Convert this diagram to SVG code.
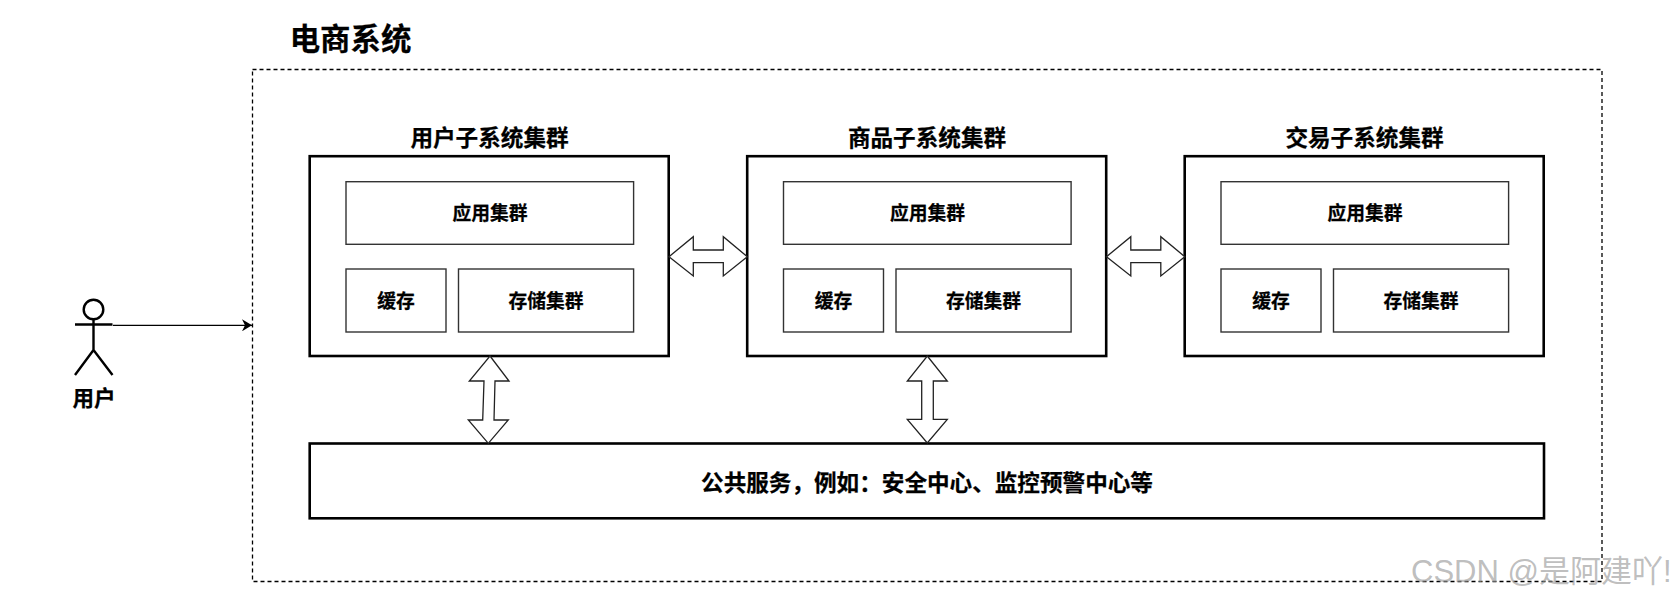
<svg xmlns="http://www.w3.org/2000/svg" width="1676" height="603" viewBox="0 0 1676 603">
<style>
text{font-family:"Noto Sans CJK SC","Noto Sans",sans-serif;font-weight:700;fill:#000;text-anchor:middle;dominant-baseline:central;stroke:#000;stroke-width:.25}
.big{fill:#fff;stroke:#000;stroke-width:2.6}
.in{fill:#fff;stroke:#333;stroke-width:1.4}
.t1{font-size:22.6px}.t2{font-size:18.8px}
.arr{fill:#fff;stroke:#222;stroke-width:1.3}
.wm{font-family:"Liberation Sans","Noto Sans CJK SC",sans-serif;font-weight:400;font-size:31px;fill:#9a9a9a;fill-opacity:.65;stroke:none;text-anchor:start}
</style>
<defs>
<marker id="ah" markerUnits="userSpaceOnUse" markerWidth="10" markerHeight="12" refX="10" refY="6" orient="auto"><path d="M0 0L10 6L0 12L3 6Z" fill="#000"/></marker>
<g id="cluster">
<rect class="big" x="309.7" y="156.2" width="359" height="199.8"/>
<rect class="in" x="346" y="181.7" width="287.6" height="62.6"/>
<text class="t2" x="490" y="211.5">应用集群</text>
<rect class="in" x="346" y="269" width="100" height="63"/>
<text class="t2" x="396" y="299">缓存</text>
<rect class="in" x="458.5" y="269" width="175.1" height="63"/>
<text class="t2" x="546" y="299">存储集群</text>
</g>
</defs>
<g id="system">
<rect x="252.5" y="69.5" width="1349.5" height="512" fill="none" stroke="#000" stroke-width="1.3" stroke-dasharray="4 3"/>
<text x="350.5" y="37" style="font-size:30.4px">电商系统</text>
</g>
<g id="user-cluster">
<text class="t1" x="489.5" y="136">用户子系统集群</text>
<use href="#cluster"/>
</g>
<g id="product-cluster">
<text class="t1" x="927" y="136">商品子系统集群</text>
<use href="#cluster" x="437.5"/>
</g>
<g id="trade-cluster">
<text class="t1" x="1364.5" y="136">交易子系统集群</text>
<use href="#cluster" x="875"/>
</g>
<g id="public-services">
<rect class="big" x="309.7" y="443.5" width="1234.3" height="74.8"/>
<text x="927" y="481" style="font-size:22.6px">公共服务，例如：安全中心、监控预警中心等</text>
</g>
<g id="actor" fill="none" stroke="#000" stroke-width="2.4">
<circle cx="93.5" cy="309.5" r="9.8" fill="#fff"/>
<path d="M75 324.5H112.5M93.5 319.5V350M93.5 350L75 375M93.5 350L112.5 375"/>
<text x="94" y="396" style="font-size:21.5px;stroke-width:.25">用户</text>
</g>
<g id="connectors">
<path d="M113 325.3H252" fill="none" stroke="#000" stroke-width="1.3" marker-end="url(#ah)"/>
<path class="arr" d="M669 256.7L693.3 236.7V250H723.3V236.7L747.3 256.7L723.3 276V262.7H693.3V276Z"/>
<path class="arr" d="M1106.5 256.7L1130.8 236.7V250H1160.8V236.7L1184.8 256.7L1160.8 276V262.7H1130.8V276Z"/>
<path class="arr" d="M490 356L509 381H495L494 420H508.3L488.3 443.3L468.3 420H482.7L484 381H469.3Z"/>
<path class="arr" d="M927.3 356L947.3 381H933.3V419.3H947.3L927.3 443L907.3 419.3H921.7V381H907.3Z"/>
</g>
<text class="wm" x="1411" y="571">CSDN @是阿建吖!</text>
</svg>
